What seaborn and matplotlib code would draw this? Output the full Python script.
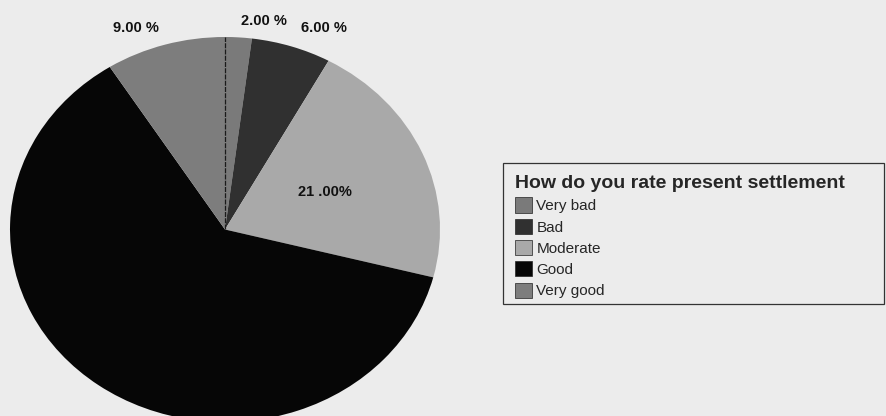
########################################################
# Required Python Packages
########################################################
import seaborn as sns
import matplotlib.pyplot as plt
from matplotlib.patches import Rectangle

########################################################
# Data
########################################################
categories = ["Very bad", "Bad", "Moderate", "Good", "Very good"]
shares = [2.0, 6.0, 21.0, 62.0, 9.0]
pct_labels = ["2.00 %", "6.00 %", "21 .00%", "", "9.00 %"]
slice_colors = ["#7a7a7a", "#303030", "#a9a9a9", "#060606", "#7d7d7d"]
legend_title = "How do you rate present settlement"

BG = "#ececec"
W, H = 886, 416

########################################################
# Figure setup
########################################################
sns.set_style("white")
plt.rcParams['font.family'] = ['Liberation Sans', 'DejaVu Sans']

fig = plt.figure(figsize=(W / 100, H / 100), dpi=100)
fig.patch.set_facecolor(BG)

# pie axes: the pie is slightly stretched sideways and cut at the bottom
ax = fig.add_axes([10 / W, (H - 422) / H, 430 / W, 385 / H])
ax.set_facecolor(BG)
ax.axis("off")

wedges, _ = ax.pie(shares, colors=slice_colors, startangle=90,
                   counterclock=False, radius=1.0,
                   wedgeprops=dict(linewidth=0))
ax.set_aspect("auto")
ax.set_xlim(-1, 1)
ax.set_ylim(-1, 1)

# thin dark boundary between "Very good" and "Very bad"
ax.plot([0, 0], [0, 1], color="#1a1a1a", lw=0.9, ls=(0, (4, 1)))

########################################################
# Percentage labels (pixel positions)
########################################################
label_pos = {0: (264, 21), 1: (324, 28), 2: (325, 192), 4: (136, 28)}
for i, (px, py) in label_pos.items():
    fig.text(px / W, 1 - py / H, pct_labels[i], ha="center", va="center",
             fontsize=10.5, fontweight="bold", color="#111111")

########################################################
# Legend (frame drawn separately so it runs to the right edge)
########################################################
fig.patches.append(Rectangle((503 / W, 1 - 304 / H), (884 - 503) / W, (304 - 163) / H,
                             transform=fig.transFigure, fill=False,
                             edgecolor="#333333", linewidth=0.9))

leg = fig.legend(wedges, categories, title=legend_title,
                 loc="upper left", bbox_to_anchor=(515 / W, 1 - 175 / H),
                 alignment="left", frameon=False,
                 fontsize=11, title_fontproperties=dict(size=14, weight="bold"),
                 borderpad=0, labelspacing=0.36, handlelength=1.1,
                 handleheight=1.15, handletextpad=0.3, borderaxespad=0)
for h in leg.legend_handles:
    h.set_edgecolor("#222222")
    h.set_linewidth(0.5)

fig.savefig("out.png", dpi=100, facecolor=BG)
